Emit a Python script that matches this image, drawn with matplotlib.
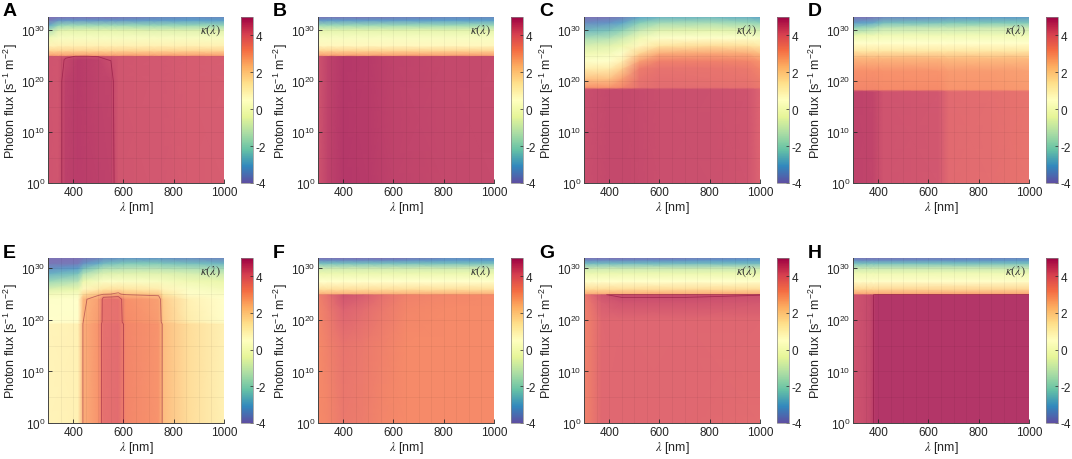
import numpy as np
import matplotlib.pyplot as plt
from matplotlib.ticker import FixedLocator, NullFormatter
from matplotlib.cm import ScalarMappable
from matplotlib.colors import Normalize, ListedColormap

plt.rcParams['font.family'] = ['Liberation Sans', 'DejaVu Sans']
plt.rcParams['mathtext.fontset'] = 'stix'
plt.rcParams['axes.unicode_minus'] = False

# kappa values: rows = log10(photon flux), columns = wavelength (nm)
lam_A = [300, 340, 370, 420, 500, 550, 580, 700, 740, 850, 1000]
logf_A = [0, 20, 24.2, 24.9, 25.1, 26, 27, 28.5, 30, 31, 32, 32.6]
kappa_A = [
    [4.4, 4.35, 4.75, 4.8, 4.75, 4.7, 4.35, 4.3, 4.3, 4.25, 4.2],
    [4.4, 4.35, 4.75, 4.85, 4.7, 4.65, 4.35, 4.3, 4.3, 4.25, 4.2],
    [4.4, 4.35, 4.6, 4.85, 4.7, 4.5, 4.35, 4.3, 4.3, 4.25, 4.2],
    [4.4, 4.35, 4.4, 4.6, 4.5, 4.4, 4.35, 4.3, 4.3, 4.25, 4.2],
    [2.8, 2.8, 2.8, 2.8, 2.8, 2.8, 2.8, 2.8, 2.8, 2.8, 2.8],
    [1.8, 1.8, 1.8, 1.8, 1.8, 1.8, 1.8, 1.8, 1.8, 1.8, 1.8],
    [0.9, 1.0, 1.0, 1.0, 1.0, 1.0, 1.0, 1.0, 1.0, 1.0, 1.0],
    [-0.2, 0.2, 0.2, 0.2, 0.2, 0.2, 0.2, 0.2, 0.2, 0.2, 0.2],
    [-1.6, -0.6, -0.5, -0.5, -0.5, -0.5, -0.5, -0.6, -0.6, -0.6, -0.6],
    [-3.0, -2.0, -1.8, -1.8, -1.8, -1.8, -1.8, -1.9, -1.9, -1.9, -1.9],
    [-3.9, -3.4, -3.3, -3.3, -3.3, -3.3, -3.3, -3.2, -3.2, -3.1, -3.1],
    [-4.0, -4.0, -4.0, -4.0, -4.0, -4.0, -3.9, -3.7, -3.6, -3.5, -3.5],
]

lam_B = [300, 340, 400, 500, 600, 800, 1000]
logf_B = [0, 24.9, 25.1, 26, 27, 28.5, 30, 31, 32, 32.6]
kappa_B = [
    [4.4, 4.7, 4.9, 4.85, 4.7, 4.6, 4.55],
    [4.4, 4.7, 4.9, 4.85, 4.7, 4.6, 4.55],
    [2.8, 2.8, 2.8, 2.8, 2.8, 2.8, 2.8],
    [1.8, 1.8, 1.8, 1.8, 1.8, 1.8, 1.8],
    [0.8, 0.8, 0.8, 0.8, 0.8, 0.8, 0.8],
    [0.2, 0.2, 0.2, 0.2, 0.2, 0.2, 0.2],
    [-0.5, -0.5, -0.5, -0.5, -0.5, -0.5, -0.5],
    [-1.8, -1.8, -1.8, -1.8, -1.8, -1.8, -1.8],
    [-3.3, -3.2, -3.2, -3.2, -3.2, -3.1, -3.1],
    [-3.9, -3.9, -3.9, -3.9, -3.8, -3.6, -3.5],
]

lam_C = [300, 400, 450, 520, 600, 800, 950, 1000]
logf_C = [0, 18.4, 18.8, 20.5, 22.5, 24, 25.5, 27, 28.5, 30, 31.5, 32.6]
kappa_C = [
    [4.5, 4.6, 4.6, 4.55, 4.5, 4.45, 4.4, 4.1],
    [4.5, 4.6, 4.6, 4.55, 4.5, 4.45, 4.4, 4.1],
    [3.0, 3.0, 3.3, 3.8, 3.9, 3.85, 3.8, 3.6],
    [2.2, 2.2, 2.8, 3.7, 3.85, 3.8, 3.7, 3.5],
    [1.1, 1.2, 1.9, 3.5, 3.75, 3.7, 3.6, 3.3],
    [0.4, 0.5, 1.0, 2.8, 3.4, 3.4, 3.3, 3.0],
    [-0.2, 0.0, 0.4, 1.8, 2.6, 2.7, 2.6, 2.3],
    [-0.8, -0.6, -0.3, 0.8, 1.4, 1.6, 1.5, 1.3],
    [-1.6, -1.4, -1.0, -0.1, 0.4, 0.5, 0.4, 0.3],
    [-2.6, -2.4, -2.0, -1.1, -0.6, -0.5, -0.6, -0.8],
    [-3.5, -3.3, -3.0, -2.2, -1.7, -1.6, -1.8, -2.0],
    [-4.0, -3.9, -3.7, -3.0, -2.7, -2.6, -2.8, -3.0],
]

lam_D = [300, 380, 420, 640, 680, 850, 1000]
logf_D = [0, 18.0, 18.4, 22, 24.5, 26, 27.5, 29, 30.5, 31.5, 32.6]
kappa_D = [
    [4.7, 4.65, 4.4, 4.3, 3.95, 3.85, 3.7],
    [4.7, 4.65, 4.4, 4.3, 3.95, 3.85, 3.7],
    [3.3, 3.3, 3.2, 3.2, 3.0, 3.0, 2.9],
    [3.1, 3.1, 3.05, 3.0, 2.9, 2.9, 2.8],
    [2.4, 2.4, 2.4, 2.4, 2.3, 2.3, 2.3],
    [1.3, 1.3, 1.3, 1.3, 1.3, 1.3, 1.3],
    [0.5, 0.5, 0.5, 0.5, 0.5, 0.5, 0.5],
    [-0.4, -0.2, -0.1, -0.1, -0.1, -0.1, -0.1],
    [-2.0, -1.6, -1.2, -1.1, -1.1, -1.0, -1.0],
    [-3.2, -2.9, -2.5, -2.4, -2.3, -2.3, -2.3],
    [-4.0, -3.9, -3.6, -3.4, -3.3, -3.2, -3.2],
]

lam_E = [300, 420, 440, 500, 520, 580, 610, 740, 760, 860, 1000]
logf_E = [0, 19.2, 19.6, 24.0, 25.0, 26.0, 27.5, 29, 30, 31, 32.0]
kappa_E = [
    [0.9, 1.0, 2.6, 3.0, 3.8, 3.9, 3.3, 3.0, 2.3, 1.6, 1.0],
    [0.9, 1.0, 2.6, 3.0, 3.8, 3.9, 3.3, 3.0, 2.3, 1.6, 1.0],
    [0.5, 0.6, 2.5, 2.9, 3.7, 3.8, 3.2, 2.9, 2.1, 1.2, 0.6],
    [0.4, 0.5, 2.4, 2.8, 3.7, 3.8, 3.1, 2.8, 2.0, 1.0, 0.5],
    [0.0, 0.2, 1.6, 2.2, 2.4, 2.6, 2.3, 2.1, 1.4, 0.6, 0.3],
    [-0.7, -0.4, 0.8, 1.2, 1.4, 1.5, 1.4, 1.2, 0.9, 0.3, 0.0],
    [-1.8, -1.3, -0.3, 0.1, 0.3, 0.3, 0.3, 0.2, 0.1, -0.2, -0.4],
    [-2.8, -2.4, -1.5, -0.9, -0.7, -0.6, -0.6, -0.6, -0.6, -0.8, -1.0],
    [-3.4, -3.1, -2.5, -1.8, -1.5, -1.4, -1.3, -1.3, -1.4, -1.5, -1.7],
    [-3.9, -3.8, -3.4, -2.9, -2.6, -2.4, -2.3, -2.3, -2.4, -2.5, -2.7],
    [-4.0, -4.0, -3.9, -3.7, -3.5, -3.4, -3.3, -3.3, -3.4, -3.5, -3.6],
]

lam_F = [300, 340, 400, 480, 560, 650, 800, 1000]
logf_F = [0, 15, 22, 24.9, 25.1, 26, 27.5, 29, 30, 31, 31.6, 32.0]
kappa_F = [
    [3.2, 3.3, 3.6, 3.5, 3.3, 3.2, 3.2, 3.2],
    [3.2, 3.4, 3.7, 3.6, 3.4, 3.2, 3.2, 3.2],
    [3.3, 3.6, 4.1, 3.9, 3.6, 3.3, 3.2, 3.2],
    [3.4, 3.8, 4.4, 4.2, 3.8, 3.4, 3.3, 3.2],
    [2.5, 2.5, 2.5, 2.5, 2.5, 2.5, 2.5, 2.5],
    [1.5, 1.5, 1.5, 1.5, 1.5, 1.5, 1.5, 1.5],
    [0.5, 0.5, 0.5, 0.5, 0.5, 0.5, 0.5, 0.5],
    [-0.3, -0.3, -0.3, -0.3, -0.3, -0.3, -0.3, -0.3],
    [-0.9, -0.9, -0.9, -0.9, -0.9, -0.9, -0.9, -0.9],
    [-2.5, -2.5, -2.5, -2.5, -2.5, -2.5, -2.5, -2.5],
    [-3.5, -3.5, -3.5, -3.5, -3.5, -3.4, -3.2, -3.1],
    [-4.0, -4.0, -4.0, -4.0, -4.0, -3.9, -3.5, -3.4],
]

lam_G = [300, 330, 370, 450, 700, 1000]
logf_G = [0, 20, 23.5, 24.9, 25.1, 26, 27.5, 29, 30, 31, 31.6, 32.0]
kappa_G = [
    [3.4, 3.6, 4.0, 4.0, 4.0, 3.9],
    [3.4, 3.6, 4.0, 4.05, 4.05, 4.0],
    [3.5, 3.8, 4.2, 4.4, 4.4, 4.3],
    [3.6, 4.0, 4.4, 4.6, 4.6, 4.5],
    [2.6, 2.6, 2.6, 2.6, 2.6, 2.6],
    [1.6, 1.6, 1.6, 1.6, 1.6, 1.6],
    [0.5, 0.5, 0.5, 0.5, 0.5, 0.5],
    [-0.3, -0.3, -0.3, -0.3, -0.3, -0.3],
    [-1.0, -1.0, -1.0, -1.0, -1.0, -1.0],
    [-2.6, -2.6, -2.6, -2.6, -2.6, -2.6],
    [-3.5, -3.5, -3.5, -3.5, -3.3, -3.1],
    [-4.0, -4.0, -4.0, -4.0, -3.8, -3.4],
]

lam_H = [300, 340, 370, 390, 1000]
logf_H = [0, 24.9, 25.1, 26, 27.5, 29, 30, 31, 31.6, 32.0]
kappa_H = [
    [4.4, 4.5, 4.6, 4.95, 4.95],
    [4.4, 4.5, 4.6, 4.95, 4.95],
    [2.7, 2.7, 2.7, 2.7, 2.7],
    [1.7, 1.7, 1.7, 1.7, 1.7],
    [0.6, 0.6, 0.6, 0.6, 0.6],
    [-0.2, -0.2, -0.2, -0.2, -0.2],
    [-1.0, -1.0, -1.0, -1.0, -1.0],
    [-2.5, -2.5, -2.5, -2.5, -2.5],
    [-3.4, -3.5, -3.5, -3.5, -3.2],
    [-3.8, -3.9, -3.9, -3.9, -3.5],
]

# faint iso-lines drawn in some panels
levels_A = [4.55]
levels_E = [2.5, 3.5]
levels_G = [4.45]
levels_H = [4.8]

panels = [
    ('A', lam_A, logf_A, kappa_A, levels_A), ('B', lam_B, logf_B, kappa_B, []),
    ('C', lam_C, logf_C, kappa_C, []), ('D', lam_D, logf_D, kappa_D, []),
    ('E', lam_E, logf_E, kappa_E, levels_E), ('F', lam_F, logf_F, kappa_F, []),
    ('G', lam_G, logf_G, kappa_G, levels_G), ('H', lam_H, logf_H, kappa_H, levels_H),
]

# surface is drawn semi-transparent over white -> use a washed copy of the map
base = plt.get_cmap('Spectral_r')(np.linspace(0, 1, 256))
washed = base.copy()
washed[:, :3] = base[:, :3] * 0.8 + 0.2
surf_cmap = ListedColormap(washed)

W, H = 1072, 460
fig = plt.figure(figsize=(W / 100, H / 100), dpi=100)
lefts = [48, 318, 584, 853]
rows = [(18, 184, 32.6), (259, 424, 32.0)]
norm = Normalize(vmin=-4, vmax=5)
txt = '#262626'

for i, (letter, lam, logf, kap, levels) in enumerate(panels):
    r, c = divmod(i, 4)
    top, bot, ymax = rows[r]
    x0 = lefts[c]
    ax = fig.add_axes([x0 / W, 1 - bot / H, 176 / W, (bot - top) / H])
    X, Y = np.meshgrid(lam, 10.0 ** np.array(logf))
    ax.pcolormesh(X, Y, np.array(kap), shading='gouraud', cmap=surf_cmap,
                  norm=norm, antialiased=False)
    if levels:
        ax.contour(X, Y, np.array(kap), levels=levels, colors='#7a0030',
                   linewidths=0.6, alpha=0.45)
    ax.set_yscale('log')
    ax.set_xlim(300, 1000)
    ax.set_ylim(1, 10 ** ymax)
    ax.set_xticks([400, 600, 800, 1000])
    ax.yaxis.set_major_locator(FixedLocator([1, 1e10, 1e20, 1e30]))
    ax.yaxis.set_minor_locator(FixedLocator([1e5, 1e15, 1e25]))
    ax.yaxis.set_minor_formatter(NullFormatter())
    ax.xaxis.set_minor_locator(FixedLocator(np.arange(350, 1000, 50)))
    ax.grid(True, which='both', color='k', alpha=0.05, lw=0.6)
    ax.tick_params(which='both', direction='in', length=3, width=0.6,
                   colors=txt, labelsize=8.5, pad=2)
    ax.tick_params(which='minor', length=0)
    for s in ['top', 'right']:
        ax.spines[s].set_visible(False)
    for s in ['left', 'bottom']:
        ax.spines[s].set_color('#444444')
        ax.spines[s].set_linewidth(0.7)
    ax.set_xlabel(r'$\lambda$ [nm]', fontsize=9, color=txt, labelpad=1)
    ax.set_ylabel(r'Photon flux [s$^{\mathdefault{-1}}$ m$^{\mathdefault{-2}}$]',
                  fontsize=9, color=txt, labelpad=1)
    ax.text(0.985, 0.925, r'$\kappa(\lambda)$', transform=ax.transAxes,
            ha='right', va='center', fontsize=9, color='#333333')
    fig.text((x0 - 45) / W, 1 - (top - 6) / H, letter, fontsize=14,
             fontweight='bold', ha='left', va='center')

    cax = fig.add_axes([(x0 + 193) / W, 1 - bot / H, 12 / W, (bot - top) / H])
    cb = fig.colorbar(ScalarMappable(norm=norm, cmap='Spectral_r'), cax=cax)
    cb.set_ticks([-4, -2, 0, 2, 4])
    cb.ax.tick_params(labelsize=8.5, colors=txt, length=2, width=0.5,
                      direction='in', pad=2)
    cb.outline.set_linewidth(0.5)
    cb.outline.set_edgecolor('#888888')

fig.savefig('out.png', dpi=100)
